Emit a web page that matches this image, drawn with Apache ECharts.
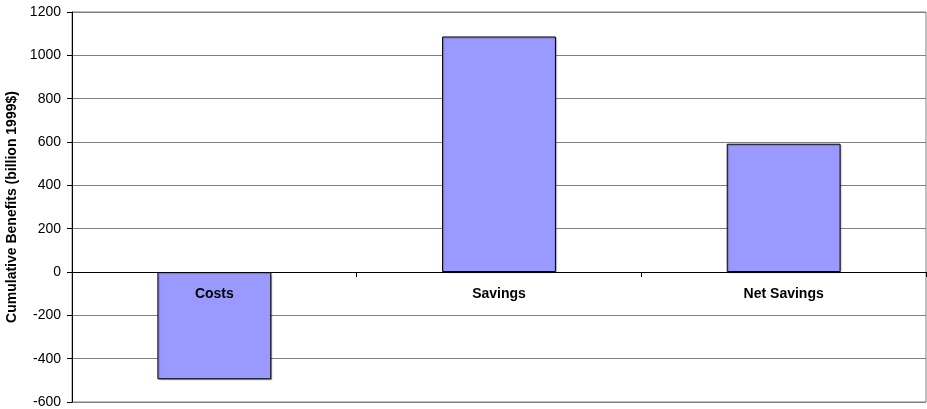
<!DOCTYPE html>
<html>
<head>
<meta charset="utf-8">
<script src="https://cdn.jsdelivr.net/npm/echarts@6/dist/echarts.min.js"></script>
<style>
  html, body { margin: 0; padding: 0; background: #fff; }
  #chart { width: 927px; height: 409px; }
</style>
</head>
<body>
<div id="chart"></div>
<script>
// Cumulative benefits, billion 1999$
const categories = ['Costs', 'Savings', 'Net Savings'];
const benefits = [-495, 1087, 592];
const axisTicks = { min: -600, max: 1200, step: 200 };

const FONT = 'Liberation Sans, Arial, sans-serif';
const GRID = { left: 72, right: 1, top: 12, bottom: 7 };
const CHART_H = 409;

// distance (px) from the bottom of the plot to the zero line, so the
// category axis with its labels sits on zero
const plotH = CHART_H - GRID.top - GRID.bottom;
const zeroFromBottom = plotH * (0 - axisTicks.min) / (axisTicks.max - axisTicks.min);

const chart = echarts.init(document.getElementById('chart'));
chart.setOption({
  animation: false,
  backgroundColor: '#ffffff',
  grid: Object.assign({}, GRID, {
    outerBoundsMode: 'none',
    containLabel: false,
    show: true, borderColor: '#808080', borderWidth: 1, backgroundColor: 'transparent'
  }),
  xAxis: {
    type: 'category',
    data: categories,
    position: 'bottom',
    offset: -zeroFromBottom,
    z: 10,
    axisLine: { onZero: false, lineStyle: { color: '#000', width: 1 } },
    axisTick: { show: true, length: 5, lineStyle: { color: '#000' } },
    axisLabel: {
      margin: 15,
      fontFamily: FONT, fontSize: 14, fontWeight: 'bold', color: '#000'
    },
    splitLine: { show: false }
  },
  yAxis: {
    type: 'value',
    min: axisTicks.min, max: axisTicks.max, interval: axisTicks.step,
    name: 'Cumulative Benefits (billion 1999$)',
    nameLocation: 'middle',
    nameGap: 53,
    nameTextStyle: { fontFamily: FONT, fontSize: 14, fontWeight: 'bold', color: '#000' },
    axisLine: { show: true, lineStyle: { color: '#000', width: 1 } },
    axisTick: { show: true, length: 5, lineStyle: { color: '#000' } },
    axisLabel: {
      margin: 11,
      formatter: (v) => String(v),
      fontFamily: FONT, fontSize: 14, color: '#000'
    },
    splitLine: { show: true, lineStyle: { color: '#808080', width: 1 } }
  },
  series: [{
    type: 'bar',
    data: benefits,
    barWidth: '40%',
    itemStyle: {
      color: '#9999ff',
      borderColor: '#000',
      borderWidth: 1,
      shadowColor: 'rgba(0,0,0,0.25)',
      shadowOffsetX: 1,
      shadowOffsetY: 1,
      shadowBlur: 1
    }
  }]
});
</script>
</body>
</html>
